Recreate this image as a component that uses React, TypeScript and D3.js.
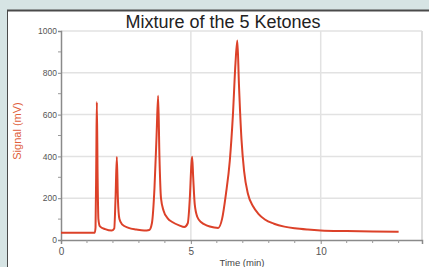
import * as d3 from "d3";
import { useEffect, useRef } from "react";

// chromatogram trace: [time (min), signal (mV)]
const trace: [number, number][] = [
  [0, 35], [1.3, 35], [1.33, 60], [1.36, 400], [1.38, 660], [1.41, 300], [1.44, 100],
  [1.5, 65], [1.7, 52], [1.95, 45], [2.05, 55], [2.1, 200], [2.15, 397], [2.19, 200],
  [2.25, 100], [2.35, 75], [2.6, 58], [2.9, 50], [3.2, 45], [3.4, 48], [3.5, 80],
  [3.6, 250], [3.68, 500], [3.74, 690], [3.79, 400], [3.85, 200], [3.95, 140],
  [4.1, 105], [4.3, 85], [4.55, 70], [4.75, 62], [4.88, 80], [4.96, 200], [5.02, 360],
  [5.05, 398], [5.09, 300], [5.15, 170], [5.25, 110], [5.4, 85], [5.6, 70], [5.9, 60],
  [6.05, 58], [6.2, 100], [6.35, 220], [6.5, 380], [6.62, 600], [6.72, 850], [6.79, 955],
  [6.85, 750], [6.95, 480], [7.05, 330], [7.2, 220], [7.4, 160], [7.6, 125], [7.85, 98],
  [8.2, 78], [8.6, 64], [9.0, 56], [9.5, 50], [10, 46], [11, 43], [12, 41], [13, 40],
];

const xTicks = [0, 5, 10];
const xMinor = [1, 2, 3, 4, 6, 7, 8, 9, 11, 12, 13];
const yTicks = [0, 200, 400, 600, 800, 1000];
const yMinor = [100, 300, 500, 700, 900];

const title = "Mixture of the 5 Ketones";
const xLabel = "Time (min)";
const yLabel = "Signal (mV)";

export default function App() {
  const svgRef = useRef<SVGSVGElement>(null);
  const width = 429;
  const height = 267;
  const margin = { top: 31, right: 7, bottom: 27, left: 61 };

  useEffect(() => {
    const svg = d3.select(svgRef.current);
    svg.selectAll("*").remove();
    const innerW = width - margin.left - margin.right;
    const innerH = height - margin.top - margin.bottom;

    // page background + white panel
    svg.append("rect").attr("width", width).attr("height", height).attr("fill", "#d6e4e4");
    svg.append("rect").attr("x", 7).attr("y", 10).attr("width", width - 7).attr("height", height - 10).attr("fill", "#fff");
    svg.append("line").attr("x1", 7).attr("x2", width).attr("y1", 10.5).attr("y2", 10.5).attr("stroke", "#4a4a4a").attr("stroke-width", 2);
    svg.append("line").attr("x1", 7.5).attr("x2", 7.5).attr("y1", 10).attr("y2", height).attr("stroke", "#4a4a4a").attr("stroke-width", 1);

    const x = d3.scaleLinear().domain([0, 13.9]).range([0, innerW]);
    const y = d3.scaleLinear().domain([0, 1000]).range([innerH, 0]);

    const g = svg.append("g").attr("transform", `translate(${margin.left},${margin.top})`);

    // grid
    g.append("g")
      .selectAll("line")
      .data(yTicks.filter((d) => d > 0))
      .join("line")
      .attr("x1", 0).attr("x2", innerW)
      .attr("y1", (d) => y(d)).attr("y2", (d) => y(d))
      .attr("stroke", "#e2e2e2").attr("stroke-width", 1.5);
    g.append("g")
      .selectAll("line")
      .data(xTicks.filter((d) => d > 0))
      .join("line")
      .attr("x1", (d) => x(d)).attr("x2", (d) => x(d))
      .attr("y1", 0).attr("y2", innerH)
      .attr("stroke", "#e2e2e2").attr("stroke-width", 1.5);
    g.append("line")
      .attr("x1", innerW).attr("x2", innerW).attr("y1", 0).attr("y2", innerH)
      .attr("stroke", "#dcdcdc").attr("stroke-width", 2);

    // axes
    const gx = g.append("g").attr("transform", `translate(0,${innerH})`)
      .call(d3.axisBottom(x).tickValues(xTicks).tickSize(4).tickPadding(4).tickFormat(d3.format("d")));
    gx.append("g").selectAll("line").data(xMinor).join("line")
      .attr("x1", (d) => x(d)).attr("x2", (d) => x(d)).attr("y1", 0).attr("y2", 3)
      .attr("stroke", "#999");
    const gy = g.append("g")
      .call(d3.axisLeft(y).tickValues(yTicks).tickSize(3).tickPadding(1).tickFormat(d3.format("d")));
    gy.append("g").selectAll("line").data(yMinor).join("line")
      .attr("x1", 0).attr("x2", -3).attr("y1", (d) => y(d)).attr("y2", (d) => y(d))
      .attr("stroke", "#999");

    for (const ax of [gx, gy]) {
      ax.select(".domain").attr("stroke", "#8a8a8a").attr("stroke-width", 1.5);
      ax.selectAll(".tick line").attr("stroke", "#8a8a8a");
      ax.selectAll(".tick text")
        .attr("fill", "#555")
        .attr("font-family", "Liberation Sans, Arial, sans-serif")
        .attr("font-size", 8.5);
    }
    gx.selectAll(".tick text").attr("font-size", 10);

    // trace
    const line = d3.line<[number, number]>()
      .x((d) => x(d[0]))
      .y((d) => y(d[1]))
      .curve(d3.curveMonotoneX);
    g.append("path")
      .datum(trace)
      .attr("fill", "none")
      .attr("stroke", "#dc4129")
      .attr("stroke-width", 2)
      .attr("stroke-linejoin", "round")
      .attr("d", line);

    // labels
    svg.append("text")
      .attr("x", 223).attr("y", 28)
      .attr("text-anchor", "middle")
      .attr("font-family", "Liberation Sans, Arial, sans-serif")
      .attr("font-size", 18)
      .attr("fill", "#222")
      .text(title);
    svg.append("text")
      .attr("transform", `translate(21,131) rotate(-90)`)
      .attr("text-anchor", "middle")
      .attr("font-family", "Liberation Sans, Arial, sans-serif")
      .attr("font-size", 11)
      .attr("fill", "#e0603a")
      .text(yLabel);
    svg.append("text")
      .attr("x", 242).attr("y", 266)
      .attr("text-anchor", "middle")
      .attr("font-family", "Liberation Sans, Arial, sans-serif")
      .attr("font-size", 9.5)
      .attr("fill", "#444")
      .text(xLabel);
  }, []);

  return (
    <svg
      ref={svgRef}
      width={width}
      height={height}
      style={{ position: "fixed", left: 0, top: 0, display: "block" }}
    />
  );
}
